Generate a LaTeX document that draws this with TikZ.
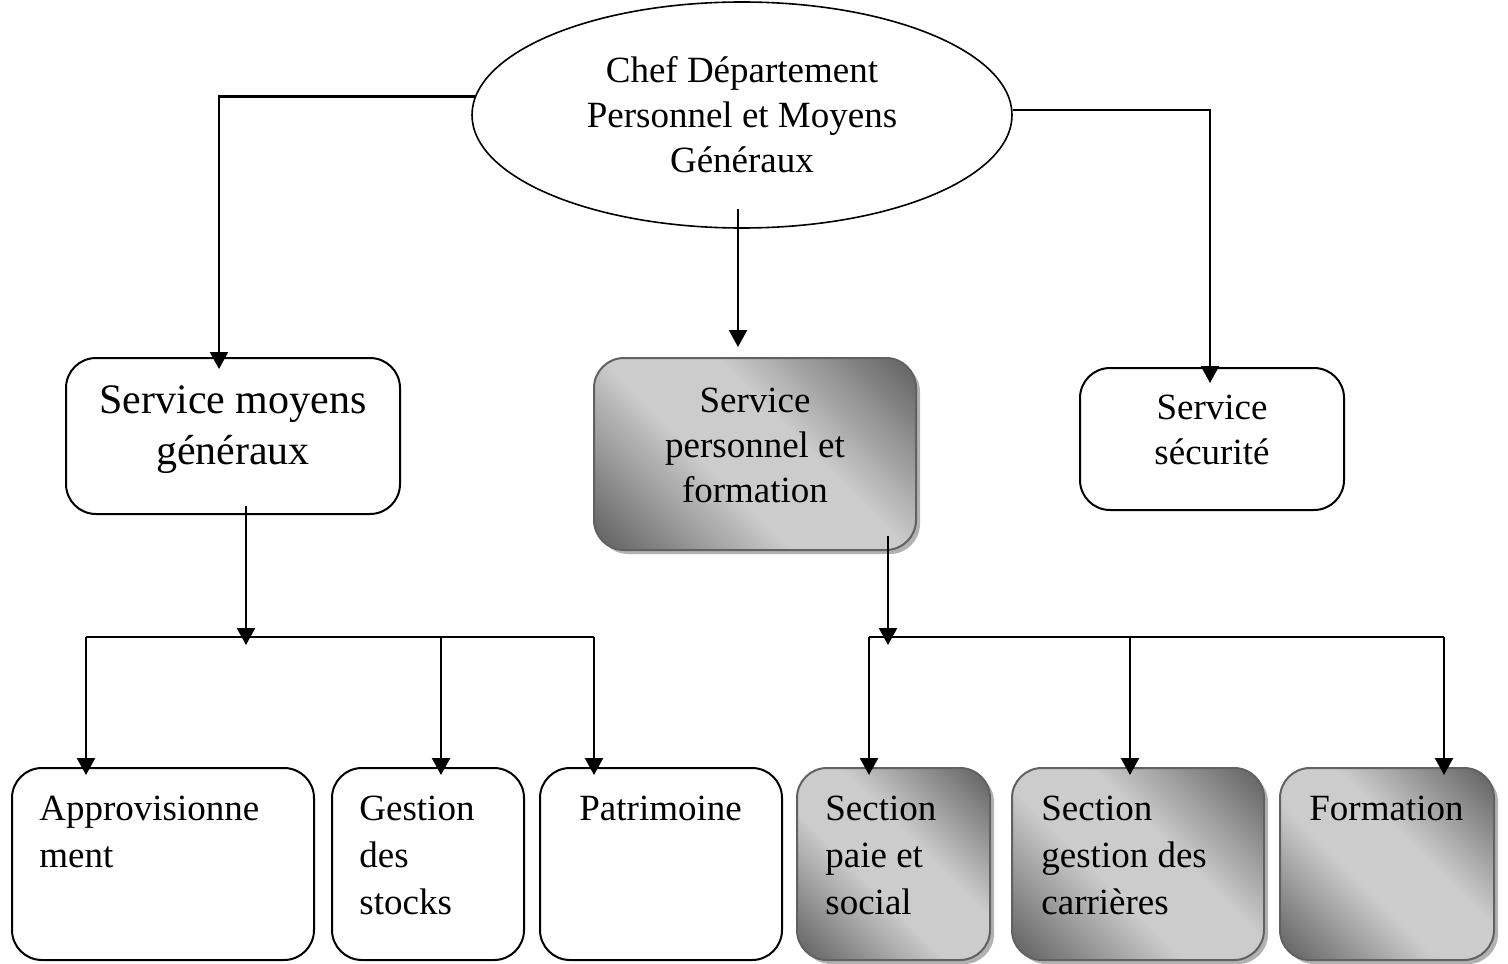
\documentclass[tikz,border=0pt]{standalone}
\usepackage{fontspec}
\setmainfont{Liberation Serif}
\usetikzlibrary{arrows.meta,calc,shadows,shapes.geometric}

% grey fill of the highlighted boxes: dark corners, light diagonal band
\definecolor{gdark}{gray}{0.42}
\definecolor{glight}{gray}{0.80}
\pgfdeclareverticalshading{sectshade}{100bp}{%
  color(0bp)=(gdark); color(18bp)=(gdark); color(42bp)=(glight);
  color(58bp)=(glight); color(82bp)=(gdark); color(100bp)=(gdark)}

\begin{document}
\begin{tikzpicture}[x=0.5pt,y=-0.5pt,
  font=\fontsize{18.5}{22.5}\selectfont,
  box/.style={draw=black, line width=1pt, rounded corners=15pt, inner sep=0pt},
  plainbox/.style={box, fill=white},
  shadedbox/.style={box, draw=black!62, shading=sectshade, shading angle=-45,
    drop shadow={shadow xshift=2pt, shadow yshift=-2pt, fill=black!30, opacity=1}},
  centertxt/.style={align=center, inner sep=0pt},
  txt/.style={anchor=north west, align=left, inner sep=0pt, font=\fontsize{18.5}{23.3}\selectfont},
  arr/.style={line width=1.2pt, -{Triangle[length=8.5pt,width=9pt]}},
  bus/.style={line width=1.2pt},
]
\useasboundingbox (0,0) rectangle (1508,963);

% head of department
\node[ellipse, draw, line width=0.8pt, minimum width=270pt, minimum height=113pt,
      inner sep=0pt, align=center] (chef) at (742,115)
      {Chef Département\\Personnel et Moyens\\Généraux};

% services
\node[plainbox, minimum width=167pt, minimum height=78pt] (smg) at (233,436) {};
\node[centertxt, font=\fontsize{21}{25.5}\selectfont] (smgt) at (233,430) {Service moyens\\généraux};
\node[shadedbox, minimum width=161pt, minimum height=96pt] (spf) at (755,454) {};
\node[centertxt] (spft) at (755,445) {Service\\personnel et\\formation};
\node[plainbox, minimum width=132pt, minimum height=71pt] (ss) at (1212,439) {};
\node[centertxt] (sst) at (1212,430) {Service\\sécurité};

% sections
\node[plainbox, minimum width=151pt, minimum height=96pt] (b1) at (163,864) {};
\node[plainbox, minimum width=96pt, minimum height=96pt] (b2) at (428,864) {};
\node[plainbox, minimum width=121pt, minimum height=96pt] (b3) at (661,864) {};
\node[shadedbox, minimum width=96.5pt, minimum height=96pt] (b4) at (893.5,864) {};
\node[shadedbox, minimum width=126pt, minimum height=96pt] (b5) at (1138,864) {};
\node[shadedbox, minimum width=107pt, minimum height=96pt] (b6) at (1387,864) {};

\node[txt] (t1) at ($(b1.north west)+(28,29)$) {Approvisionne\\ment};
\node[txt] (t2) at ($(b2.north west)+(28,29)$) {Gestion\\des\\stocks};
\node[txt] (t3) at ($(b3.north west)+(40,29)$) {Patrimoine};
\node[txt] (t4) at ($(b4.north west)+(29,29)$) {Section\\paie et\\social};
\node[txt] (t5) at ($(b5.north west)+(30,29)$) {Section\\gestion des\\carrières};
\node[txt] (t6) at ($(b6.north west)+(30,29)$) {Formation};

% links from the head of department
\draw[arr, shorten >=-6pt] (chef.176.8) -| (smg.north -| 219,0);
\draw[arr, shorten >=-8pt] (chef.1) -| (ss.north -| 1210,0);
\coordinate (mtop) at ($(chef.south)+(-4,-20)$);
\draw[arr, shorten >=5pt] (mtop) -- (mtop |- spf.north);

% left branch
\coordinate (jl) at (246,637);
\coordinate (l1) at (86,637);
\coordinate (l2) at (441,637);
\coordinate (l3) at (594,637);
\draw[arr, shorten >=-4pt] (jl |- smg.south) ++(0,-9) -- (jl);
\draw[bus] (l1) -- (l3);
\draw[arr, shorten >=-4pt] (l1) -- (l1 |- b1.north);
\draw[arr, shorten >=-4pt] (l2) -- (l2 |- b2.north);
\draw[arr, shorten >=-4pt] (l3) -- (l3 |- b3.north);

% right branch
\coordinate (jr) at (888,637);
\coordinate (r1) at (869,637);
\coordinate (r2) at (1130,637);
\coordinate (r3) at (1444,637);
\draw[arr, shorten >=-4pt] (jr |- spf.south) ++(0,-15) -- (jr);
\draw[bus] (r1) -- (r3);
\draw[arr, shorten >=-4pt] (r1) -- (r1 |- b4.north);
\draw[arr, shorten >=-4pt] (r2) -- (r2 |- b5.north);
\draw[arr, shorten >=-4pt] (r3) -- (r3 |- b6.north);
\end{tikzpicture}
\end{document}
